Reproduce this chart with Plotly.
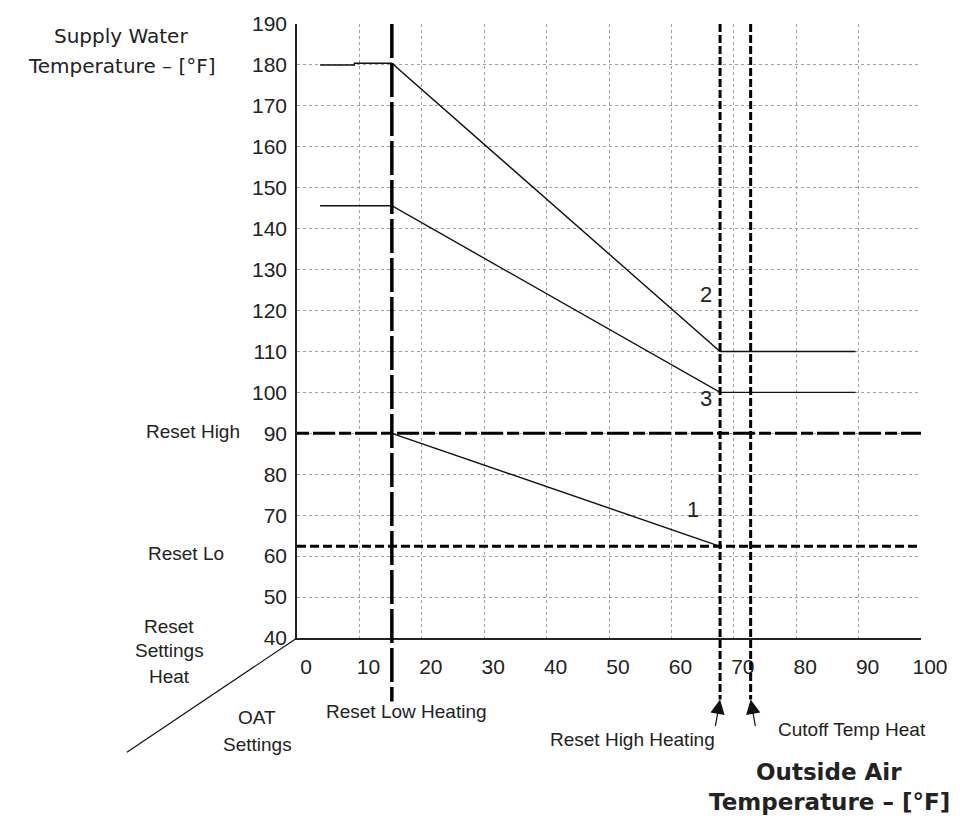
import plotly.graph_objects as go

# ---- data ----
x_ticks = [0, 10, 20, 30, 40, 50, 60, 70, 80, 90, 100]
y_ticks = [40, 50, 60, 70, 80, 90, 100, 110, 120, 130, 140, 150, 160, 170, 180, 190]

oat_reset_low = 15.2
oat_reset_high = 67.8
oat_cutoff = 72.7
reset_high = 90
reset_lo = 62.4

curve1_x = [15.2, 67.8]
curve1_y = [90, 62.4]
curve2_x = [3.7, 9.2, 9.2, 15.2, 67.8, 89.5]
curve2_y = [180, 180, 180.4, 180.4, 110, 110]
curve3_x = [3.7, 15.2, 67.8, 89.5]
curve3_y = [145.6, 145.6, 100, 100]

curve_labels = ["1", "2", "3"]
curve_label_x = [63.5, 65.6, 65.6]
curve_label_y = [71.3, 124, 98.5]

# ---- layout geometry (pixels) ----
W, H = 960, 820
L, R, T, B = 297, 928, 20, 638
PW, PH = R - L, B - T


def px(xp):
    return (xp - L) / PW


def py(yp):
    return (B - yp) / PH


fig = go.Figure()
for cx, cy in [(curve1_x, curve1_y), (curve2_x, curve2_y), (curve3_x, curve3_y)]:
    fig.add_trace(go.Scatter(x=cx, y=cy, mode="lines",
                             line=dict(color="#111", width=1.4),
                             showlegend=False, hoverinfo="skip"))

shapes = []
# horizontal reset lines
shapes.append(dict(type="line", xref="x", yref="y", x0=0, x1=100, y0=reset_high, y1=reset_high,
                   line=dict(color="#000", width=3, dash="12px,4px,22px,4px")))
shapes.append(dict(type="line", xref="x", yref="y", x0=0, x1=100, y0=reset_lo, y1=reset_lo,
                   line=dict(color="#000", width=3, dash="9px,4px")))
# vertical lines extend below the axis
shapes.append(dict(type="line", xref="x", yref="paper", x0=oat_reset_low, x1=oat_reset_low,
                   y0=1, y1=py(702), line=dict(color="#000", width=3.5, dash="34px,5px")))
for xv in [oat_reset_high, oat_cutoff]:
    shapes.append(dict(type="line", xref="x", yref="paper", x0=xv, x1=xv,
                       y0=1, y1=py(700), line=dict(color="#000", width=3, dash="8px,3px")))
# oblique "settings" line
shapes.append(dict(type="line", xref="paper", yref="paper", x0=px(125), y0=py(753),
                   x1=0, y1=0, line=dict(color="#111", width=1.2)))
fig.update_layout(shapes=shapes)

ann = []
small = dict(family="Liberation Sans", size=19, color="#222")
for t, xv, yv in zip(curve_labels, curve_label_x, curve_label_y):
    ann.append(dict(text=t, x=xv, y=yv, xref="x", yref="y", showarrow=False,
                    font=dict(family="Liberation Sans", size=22, color="#222")))

def txt(text, xp, yp, font=small, xanchor="center"):
    ann.append(dict(text=text, x=px(xp), y=py(yp), xref="paper", yref="paper",
                    showarrow=False, font=font, xanchor=xanchor, yanchor="middle"))

title_font = dict(family="DejaVu Sans", size=20, color="#222")
txt("Supply Water", 119, 32, title_font)
txt("Temperature – [°F]", 120, 62, title_font)
txt("Reset High", 192, 430)
txt("Reset Lo", 185, 553)
txt("Reset", 168, 626)
txt("Settings", 168, 651)
txt("Heat", 168, 677)
txt("OAT", 257, 718)
txt("Settings", 257, 745)
txt("Reset Low Heating", 408, 712)
txt("Reset High Heating", 636, 740)
txt("Cutoff Temp Heat", 858, 730)
bold = dict(family="DejaVu Sans", size=23, color="#222")
txt("<b>Outside Air</b>", 835, 773, bold)
txt("<b>Temperature – [°F]</b>", 835, 803, bold)

# arrows
for xv, dx in [(oat_reset_high, -5), (oat_cutoff, 5)]:
    ann.append(dict(text="", x=xv, y=py(700), xref="x", yref="paper", showarrow=True,
                    ax=dx, ay=28, arrowhead=2, arrowsize=2.4, arrowwidth=1.2,
                    arrowcolor="#111", standoff=0))

fig.update_layout(annotations=ann)

tickfont = dict(family="Liberation Sans", size=21, color="#222")
fig.update_xaxes(range=[0, 100], tickvals=x_ticks, ticktext=[str(v) for v in x_ticks],
                 showgrid=True, gridcolor="#a0a0a0", griddash="dot", gridwidth=1,
                 showline=True, linecolor="#222", linewidth=1.5, mirror=False,
                 zeroline=False, ticks="", tickfont=tickfont,
                 ticklabelshift=9, ticklabelstandoff=9, fixedrange=True)
fig.update_yaxes(range=[40, 190], tickvals=y_ticks, ticktext=[str(v) for v in y_ticks],
                 showgrid=True, gridcolor="#a0a0a0", griddash="dot", gridwidth=1,
                 showline=True, linecolor="#222", linewidth=1.5,
                 zeroline=False, ticks="", tickfont=tickfont,
                 ticklabelstandoff=4, fixedrange=True)

fig.update_layout(width=W, height=H, margin=dict(l=L, r=W - R, t=T, b=H - B),
                  plot_bgcolor="white", paper_bgcolor="white", showlegend=False)

fig.write_html("out.html", config={"displayModeBar": False},
               post_script="document.body.style.margin='0px';")
